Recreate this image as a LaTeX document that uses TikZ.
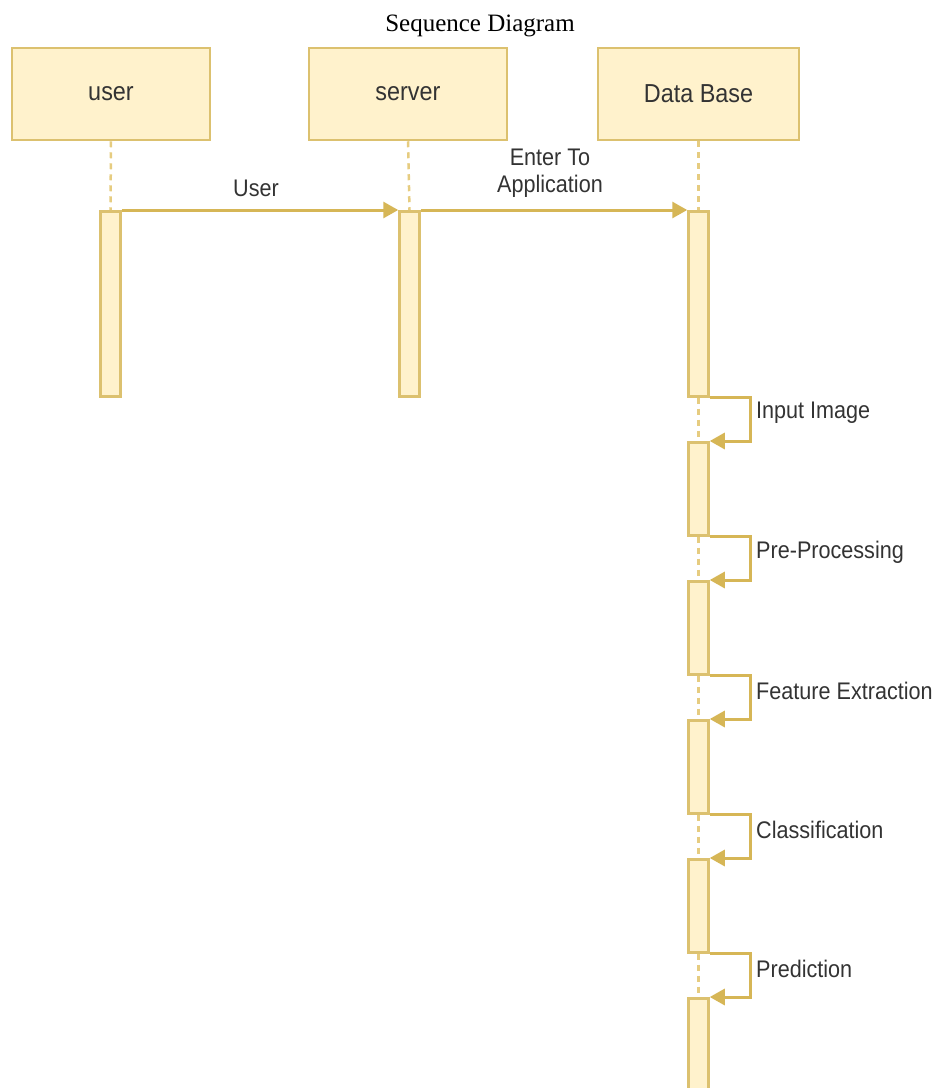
\documentclass[tikz,border=0pt]{standalone}
\usepackage{fontspec}
\setmainfont{Liberation Serif}
\newfontfamily\labfont[FakeStretch=0.9]{Liberation Sans}
\usetikzlibrary{arrows.meta}
\definecolor{yfill}{HTML}{FFF2CC}
\definecolor{ystroke}{HTML}{D6B656}
\definecolor{ylife}{HTML}{E6CC80}
\definecolor{ytext}{HTML}{333333}
\tikzset{
  actor/.style={draw=ystroke!85, fill=yfill, line width=2.5pt, minimum width=198pt, minimum height=92pt, inner sep=0pt,
    font=\labfont\fontsize{26}{30}\selectfont, text=ytext},
  act/.style={draw=ystroke!85, fill=yfill, line width=2.5pt, minimum width=20pt, inner sep=0pt, anchor=north},
  life/.style={draw=ylife, line width=2.5pt, dash pattern=on 6pt off 5pt},
  msg/.style={draw=ystroke, line width=3pt, -{Triangle[length=15pt,width=16pt]}},
  lab/.style={font=\labfont\fontsize{24}{27}\selectfont, text=ytext, inner sep=0pt, align=center},
}
\begin{document}
\begin{tikzpicture}[x=1pt,y=-1pt]
\useasboundingbox (0,0) rectangle (938,1088);
\clip (0,0) rectangle (938,1088);
\node[font=\fontsize{25}{30}\selectfont] (title) at (480,26) {Sequence Diagram};
% actors
\node[actor] (user) at (111,94) {user};
\node[actor] (server) at (408,94) {server};
\node[actor, minimum width=201pt] (db) at (698.5,94) {Data Base};
% activations
\node[act, minimum height=185pt] (ua) at (110.5,210) {};
\node[act, minimum height=185pt] (sa) at (409.5,210) {};
\node[act, minimum height=185pt] (a1) at (698.5,210) {};
\node[act, minimum height=93pt] (a2) at (698.5,441) {};
\node[act, minimum height=93pt] (a3) at (698.5,580) {};
\node[act, minimum height=93pt] (a4) at (698.5,719) {};
\node[act, minimum height=93pt] (a5) at (698.5,858) {};
\node[act, minimum height=100pt] (a6) at (698.5,997) {};
% lifelines
\draw[life] (user.south) -- (ua.north);
\draw[life] (server.south) -- (sa.north);
\draw[life] (db.south) -- (a1.north);
\draw[life] (a1.south) -- (a2.north);
\draw[life] (a2.south) -- (a3.north);
\draw[life] (a3.south) -- (a4.north);
\draw[life] (a4.south) -- (a5.north);
\draw[life] (a5.south) -- (a6.north);
% messages
\draw[msg] (ua.north east) -- (sa.north west);
\draw[msg] (sa.north east) -- (a1.north west);
\node[lab] (m1) at (256,188) {User};
\node[lab] (m2) at (550,173) {Enter To\\Application};
% self messages
\draw[msg] (a1.south east) -- ++(41,0) |- (a2.north east);
\draw[msg] (a2.south east) -- ++(41,0) |- (a3.north east);
\draw[msg] (a3.south east) -- ++(41,0) |- (a4.north east);
\draw[msg] (a4.south east) -- ++(41,0) |- (a5.north east);
\draw[msg] (a5.south east) -- ++(41,0) |- (a6.north east);
\node[lab, anchor=west] (l1) at (756,413) {Input Image};
\node[lab, anchor=west] (l2) at (756,552) {Pre-Processing};
\node[lab, anchor=west] (l3) at (756,691) {Feature Extraction};
\node[lab, anchor=west] (l4) at (756,830) {Classification};
\node[lab, anchor=west] (l5) at (756,969) {Prediction};
\end{tikzpicture}
\end{document}
